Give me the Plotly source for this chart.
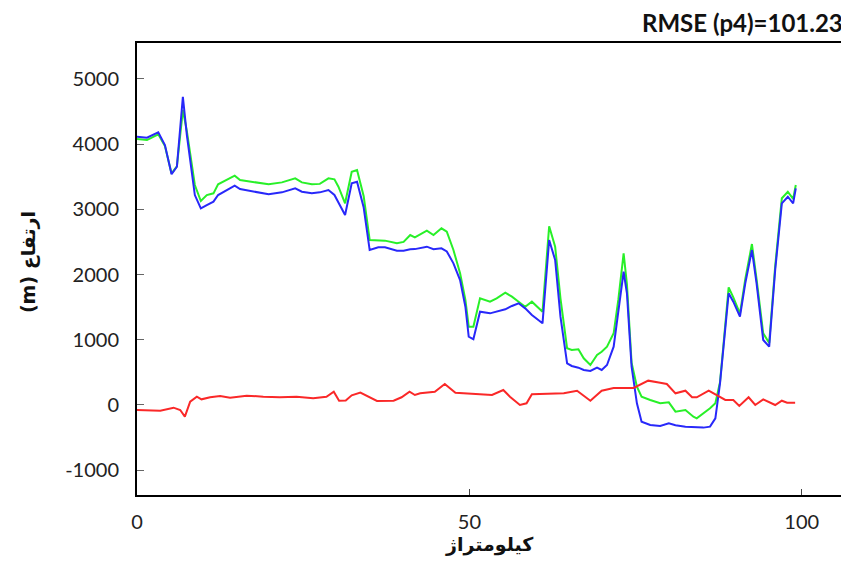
import plotly.graph_objects as go

# distance along profile (km) for the two elevation profiles
km = [0, 1.5, 3.2, 4.2, 5.2, 6.0, 6.9, 7.5, 8.7, 9.6, 10.5, 11.5, 12.2, 13.5, 14.7,
      15.5, 17.3, 19.8, 21.8, 23.8, 24.8, 26.3, 27.5, 28.8, 29.7, 30.3, 31.3, 32.3,
      33.1, 34.1, 35.0, 36.3, 37.3, 39.1, 40.1, 41.1, 41.8, 43.6, 44.6, 45.8, 46.6,
      47.6, 48.6, 49.4, 49.9, 50.6, 51.6, 53.1, 54.1, 55.4, 56.4, 57.4, 58.4, 59.4,
      61.0, 62.0, 62.9, 63.7, 64.7, 65.4, 66.4, 67.2, 68.2, 69.2, 69.9, 70.7, 71.7,
      72.4, 73.2, 73.7, 74.4, 75.2, 75.9, 77.2, 78.7, 80.0, 81.0, 82.5, 83.7, 84.2,
      85.2, 86.2, 87.0, 87.7, 88.2, 89.0, 89.7, 90.7, 91.5, 92.5, 93.2, 94.2, 95.1,
      96.0, 97.0, 97.9, 98.7, 99.1]

blue_elev = [4113, 4098, 4180, 3986, 3537, 3653, 4726, 4139, 3219, 3015, 3066, 3117,
             3219, 3290, 3362, 3311, 3280, 3230, 3260, 3321, 3270, 3245, 3260, 3296,
             3220, 3100, 2913, 3398, 3423, 3028, 2376, 2417, 2417, 2366, 2366, 2387,
             2390, 2427, 2387, 2402, 2355, 2172, 1916, 1507, 1047, 1007, 1430, 1405,
             1430, 1467, 1518, 1559, 1482, 1380, 1252, 2530, 2223, 1354, 639, 598,
             572, 537, 521, 572, 537, 613, 894, 1405, 2043, 1712, 587, 26, -256, -307,
             -322, -281, -310, -332, -340, -347, -347, -332, -204, 332, 843, 1712,
             1584, 1354, 1865, 2376, 1865, 997, 894, 2070, 3092, 3193, 3092, 3321]

green_elev = [4078, 4062, 4150, 3970, 3550, 3660, 4522, 4200, 3373, 3127, 3219, 3245,
              3383, 3450, 3515, 3449, 3423, 3383, 3413, 3475, 3413, 3383, 3390, 3475,
              3460, 3347, 3092, 3577, 3603, 3200, 2530, 2519, 2520, 2479, 2500, 2606,
              2571, 2672, 2606, 2709, 2657, 2376, 2019, 1610, 1200, 1200, 1636, 1584,
              1636, 1722, 1661, 1584, 1507, 1584, 1430, 2740, 2427, 1636, 869, 843,
              854, 716, 613, 767, 817, 894, 1099, 1610, 2325, 1850, 650, 281, 127, 77,
              26, 40, -102, -77, -179, -204, -128, -51, 26, 350, 900, 1804, 1650, 1400,
              1930, 2468, 1930, 1099, 950, 2130, 3169, 3270, 3160, 3373]

# difference profile
km_diff = [0, 2, 3.5, 5.5, 6.5, 7.2, 8, 9, 9.7, 11, 12.5, 14, 16.5, 19, 21.5, 24, 26.5,
           28.5, 29.6, 30.4, 31.4, 32.3, 33.6, 36.1, 38.6, 39.8, 41, 41.8, 42.6, 44.8,
           46.3, 47.9, 50.1, 53.4, 55.1, 56.1, 57.6, 58.6, 59.4, 61.7, 64.2, 66.2, 68.2,
           69.9, 71.7, 74.7, 76.9, 78.7, 79.7, 81, 82.5, 83.5, 84.2, 86, 87.5, 88.5,
           89.7, 90.6, 92, 93, 94.2, 96, 97, 97.8, 99]
red_diff = [-77, -87, -87, -41, -77, -179, 51, 127, 87, 118, 138, 112, 143, 127, 118, 127,
            102, 127, 204, 66, 70, 148, 189, 61, 66, 118, 204, 153, 179, 204, 322, 189,
            179, 153, 230, 127, 0, 26, 164, 168, 179, 219, 66, 219, 261, 261, 373, 342,
            322, 179, 219, 118, 118, 219, 138, 77, 77, -15, 118, 0, 87, 0, 66, 36, 36]

y_ticks = [-1000, 0, 1000, 2000, 3000, 4000, 5000]
y_tick_labels = ['-1000', '0', '1000', '2000', '3000', '4000', '5000']
x_ticks = [0, 50, 100]

fig = go.Figure()
fig.add_trace(go.Scatter(x=km, y=green_elev, mode='lines',
                         line=dict(color='rgb(40,240,40)', width=2)))
fig.add_trace(go.Scatter(x=km, y=blue_elev, mode='lines',
                         line=dict(color='rgb(40,40,250)', width=2)))
fig.add_trace(go.Scatter(x=km_diff, y=red_diff, mode='lines',
                         line=dict(color='rgb(250,40,40)', width=2)))

tick_font = dict(family='Lato, DejaVu Sans', size=20, color='#222')
title_font = dict(family='DejaVu Sans', size=19, color='#111')

fig.update_layout(
    width=841, height=561,
    margin=dict(l=137, r=0, t=43, b=66),
    plot_bgcolor='white', paper_bgcolor='white',
    showlegend=False,
    xaxis=dict(
        range=[0, 105.9], tickvals=x_ticks, showgrid=False, zeroline=False,
        showline=True, linecolor='black', linewidth=2, mirror=True,
        ticks='inside', ticklen=6, tickcolor='#444', tickfont=tick_font,
        ticklabelstandoff=8, automargin=False,
    ),
    yaxis=dict(
        range=[-1380, 5550], tickvals=y_ticks, ticktext=y_tick_labels,
        showgrid=False, zeroline=False,
        showline=True, linecolor='black', linewidth=2,
        ticks='inside', ticklen=7, tickcolor='#666', tickfont=tick_font,
        ticklabelstandoff=12, automargin=False,
    ),
    annotations=[
        dict(text='<b>RMSE (p4)=101.23</b>', xref='paper', yref='paper',
             x=0.7145, y=1.046, xanchor='left', yanchor='middle', showarrow=False,
             font=dict(family='Lato, DejaVu Sans', size=24, color='#111')),
        dict(text='<b>كيلومتراژ</b>', xref='paper', yref='paper',
             x=0.5, y=-0.11, xanchor='center', yanchor='middle', showarrow=False,
             font=title_font),
        dict(text='<b>(m) ارتفاع</b>', xref='paper', yref='paper',
             x=-0.155, y=0.515, xanchor='center', yanchor='middle', showarrow=False,
             textangle=-90, font=title_font),
    ],
)

# page body has a default 8px margin; drop it so the figure sits at the corner
fig.write_html("out.html", config={'displayModeBar': False},
               post_script="document.body.style.margin='0';"
                           "document.body.style.overflow='hidden';")
